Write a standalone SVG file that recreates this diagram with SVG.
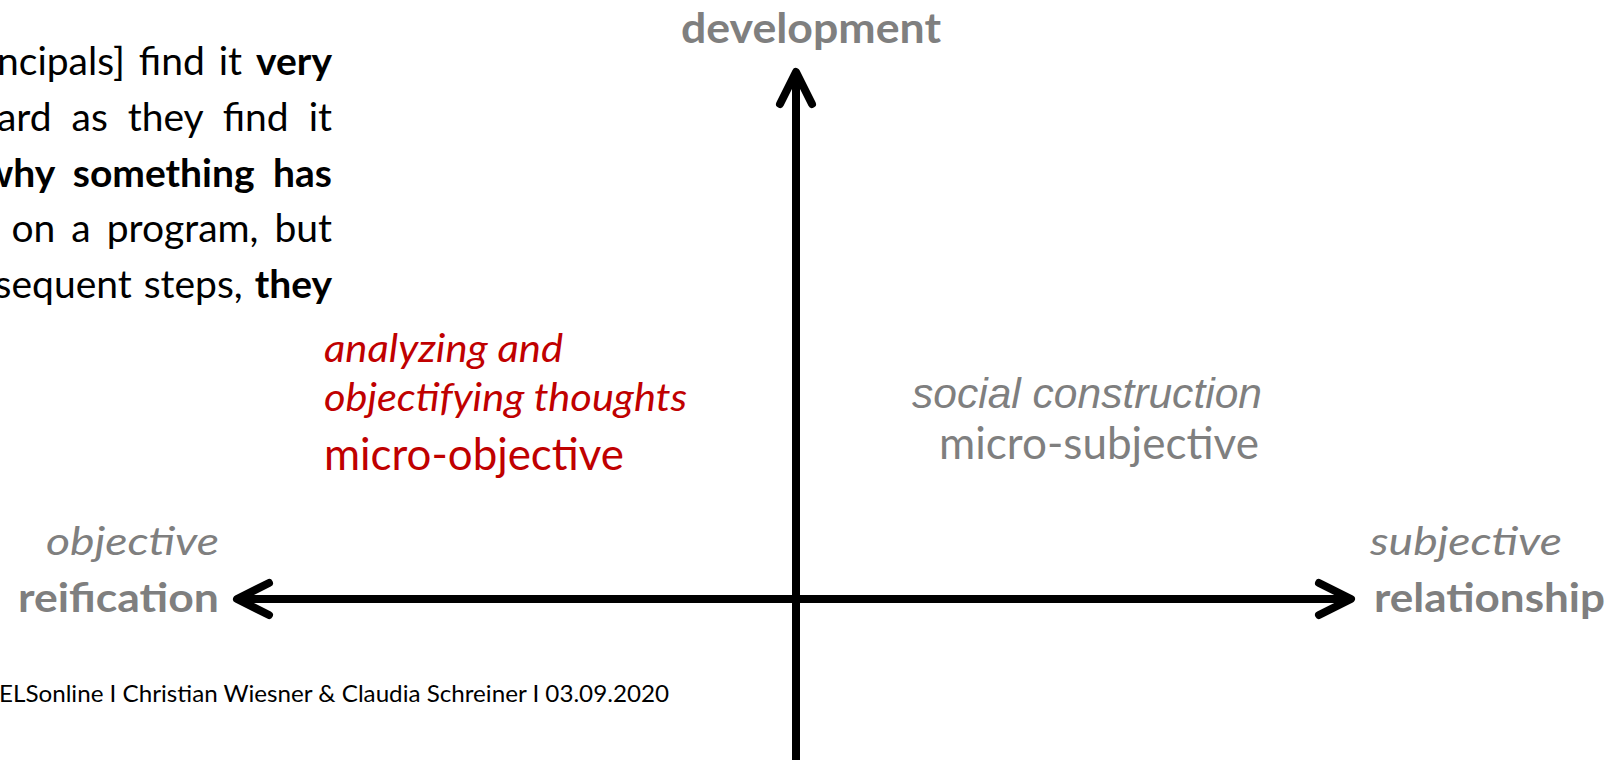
<svg xmlns="http://www.w3.org/2000/svg" width="1611" height="760" viewBox="0 0 1611 760">
<defs>
<style>
.c{font-family:Lato,"Open Sans","Noto Sans",sans-serif}
.a{font-family:"Liberation Sans",Arial,sans-serif}
.g{fill:#7f7f7f}
.r{fill:#c00000}
.k{fill:#000}
.b{font-weight:bold}
.i{font-style:italic}
.ax{stroke:#000;stroke-width:8;fill:none}
</style>
<marker id="chev" markerUnits="userSpaceOnUse" markerWidth="60" markerHeight="60" viewBox="-50 -30 60 60" refX="0" refY="0" orient="auto-start-reverse" overflow="visible">
<path d="M-32,-16 L0,0 L-32,16" fill="none" stroke="#000" stroke-width="8" stroke-linecap="round" stroke-linejoin="round"/>
</marker>
</defs>
<rect width="1611" height="760" fill="#fff"/>
<g id="connectors">
<line class="ax" x1="237" y1="599" x2="1351" y2="599" marker-start="url(#chev)" marker-end="url(#chev)"/>
<line class="ax" x1="796" y1="760" x2="796" y2="72" marker-end="url(#chev)"/>
</g>
<g id="paragraph" class="c k" font-size="39">
<text x="332" y="75" text-anchor="end" word-spacing="4">ncipals] find it <tspan class="b">very</tspan></text>
<text x="332" y="131" text-anchor="end" word-spacing="10">ard as they find it</text>
<text x="332" y="187" text-anchor="end" word-spacing="9" class="b">why something has</text>
<text x="332" y="242" text-anchor="end" word-spacing="6">on a program, but</text>
<text x="332" y="298" text-anchor="end" word-spacing="2">sequent steps, <tspan class="b">they</tspan></text>
</g>
<g id="development">
<text class="c g b" x="811" y="43" font-size="42" text-anchor="middle" textLength="260" lengthAdjust="spacingAndGlyphs">development</text>
</g>
<g id="micro-objective">
<text class="c r i" x="324" y="362" font-size="39" textLength="239" lengthAdjust="spacingAndGlyphs">analyzing and</text>
<text class="c r i" x="324" y="411" font-size="39" textLength="363" lengthAdjust="spacingAndGlyphs">objectifying thoughts</text>
<text class="c r" x="324" y="470" font-size="45" textLength="300" lengthAdjust="spacingAndGlyphs">micro-objective</text>
</g>
<g id="micro-subjective">
<text class="a g i" x="912" y="408" font-size="42" textLength="350" lengthAdjust="spacingAndGlyphs">social construction</text>
<text class="c g" x="939" y="459" font-size="45" textLength="320" lengthAdjust="spacingAndGlyphs">micro-subjective</text>
</g>
<g id="reification">
<text class="c g i" x="219" y="555" font-size="39" text-anchor="end" textLength="173" lengthAdjust="spacingAndGlyphs">objective</text>
<text class="c g b" x="219" y="612" font-size="40" text-anchor="end" textLength="201" lengthAdjust="spacingAndGlyphs">reification</text>
</g>
<g id="relationship">
<text class="c g i" x="1370" y="555" font-size="39" textLength="192" lengthAdjust="spacingAndGlyphs">subjective</text>
<text class="c g b" x="1374" y="612" font-size="40" textLength="231" lengthAdjust="spacingAndGlyphs">relationship</text>
</g>
<g id="footer">
<text class="c k" x="-1" y="702" font-size="24" textLength="670" lengthAdjust="spacingAndGlyphs">ELSonline I Christian Wiesner &amp; Claudia Schreiner I 03.09.2020</text>
</g>
</svg>
